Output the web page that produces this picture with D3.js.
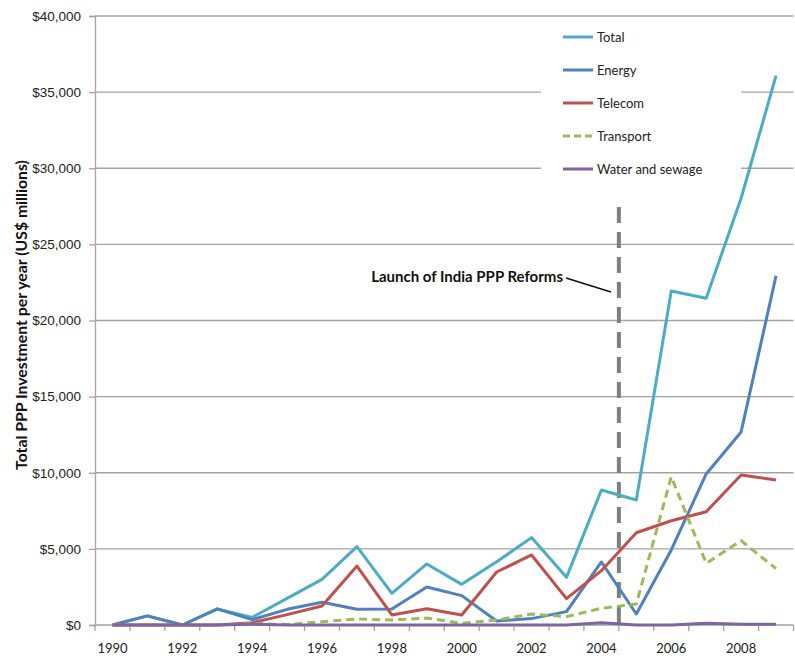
<!DOCTYPE html>
<html>
<head>
<meta charset="utf-8">
<script src="https://cdn.jsdelivr.net/npm/d3@7"></script>
<style>
  html, body { margin: 0; padding: 0; background: #fff; }
  svg { display: block; font-family: Lato, "Liberation Sans", sans-serif; }
</style>
</head>
<body>
<svg id="chart" width="795" height="661"></svg>
<script>
// Annual PPP investment in India by sector, US$ millions
const years = [1990,1991,1992,1993,1994,1995,1996,1997,1998,1999,2000,2001,2002,2003,2004,2005,2006,2007,2008,2009];
const total     = [0, 600, 0, 1050, 500, 1750, 3000, 5150, 2080, 4010, 2670, 4150, 5740, 3130, 8870, 8210, 21940, 21460, 28030, 36080];
const energy    = [0, 600, 0, 1060, 350, 1030, 1490, 1030, 1050, 2500, 1930, 260, 420, 880, 4140, 720, 4930, 9920, 12680, 22940];
const telecom   = [0, 0, 0, 0, 150, 680, 1250, 3870, 660, 1070, 660, 3480, 4600, 1730, 3570, 6060, 6850, 7440, 9850, 9520];
const transport = [0, 0, 0, 0, 100, 30, 220, 390, 330, 460, 110, 330, 720, 550, 1100, 1380, 9740, 4050, 5540, 3700];
const water     = [0, 0, 0, 0, 50, 0, 0, 0, 0, 0, 0, 0, 0, 0, 150, 0, 0, 120, 50, 50];

const seriesNames = ["Total", "Energy", "Telecom", "Transport", "Water and sewage"];
const seriesValues = [total, energy, telecom, transport, water];
const seriesColors = ["#4BACC6", "#4F81BD", "#C0504D", "#9BBB59", "#8064A2"];
const seriesDash = [null, null, null, "8,5", null];

const yTicks = [0, 5000, 10000, 15000, 20000, 25000, 30000, 35000, 40000];
const xLabelYears = [1990,1992,1994,1996,1998,2000,2002,2004,2006,2008];
const reformYear = 2004.5;
const reformLabel = "Launch of India PPP Reforms";
const yTitle = "Total PPP Investment per year (US$ millions)";

const svg = d3.select("#chart");
const plotLeft = 95, plotRight = 793.5, plotTop = 16, plotBottom = 625;

const x = d3.scaleBand().domain(years).range([plotLeft, plotRight]).paddingInner(0).paddingOuter(0);
const xc = yr => x(yr) + x.bandwidth() / 2;
const xYear = v => x(years[0]) + (v - years[0] + 0.5) * x.step();
const y = d3.scaleLinear().domain([0, 40000]).range([plotBottom, plotTop]);

// horizontal gridlines
svg.append("g").selectAll("line").data(yTicks.slice(1)).join("line")
  .attr("x1", plotLeft).attr("x2", plotRight)
  .attr("y1", d => y(d)).attr("y2", d => y(d))
  .attr("stroke", "#a3a3a3").attr("stroke-width", 1.3);

// y axis
const yAxis = svg.append("g").attr("transform", `translate(${plotLeft},0)`)
  .call(d3.axisLeft(y).tickValues(yTicks).tickSize(6).tickPadding(8)
    .tickFormat(d => "$" + d3.format(",")(d)));
yAxis.select(".domain").attr("stroke", "#a3a3a3").attr("stroke-width", 1.3);
yAxis.selectAll(".tick line").attr("stroke", "#a3a3a3").attr("stroke-width", 1.3);
yAxis.selectAll("text").attr("font-size", 13.5).attr("fill", "#222");

// x axis: ticks at category boundaries, labels every other year
const xg = svg.append("g");
xg.append("line").attr("x1", plotLeft).attr("x2", plotRight).attr("y1", plotBottom).attr("y2", plotBottom)
  .attr("stroke", "#a3a3a3").attr("stroke-width", 1.3);
xg.selectAll("line.tk").data(years.concat([years[years.length - 1] + 1])).join("line")
  .attr("class", "tk")
  .attr("x1", d => x(years[0]) + (d - years[0]) * x.step())
  .attr("x2", d => x(years[0]) + (d - years[0]) * x.step())
  .attr("y1", plotBottom).attr("y2", plotBottom + 6)
  .attr("stroke", "#a3a3a3").attr("stroke-width", 1.3);
xg.selectAll("text").data(xLabelYears).join("text")
  .attr("x", d => xc(d)).attr("y", 653)
  .attr("text-anchor", "middle").attr("font-size", 13).attr("fill", "#222")
  .text(d => d);

// y axis title
svg.append("text")
  .attr("transform", "translate(27,315) rotate(-90)")
  .attr("text-anchor", "middle").attr("font-size", 15.8).attr("font-weight", "bold")
  .attr("fill", "#111").text(yTitle);

// reform marker
svg.append("line")
  .attr("x1", xYear(reformYear)).attr("x2", xYear(reformYear))
  .attr("y1", 207).attr("y2", plotBottom)
  .attr("stroke", "#7f7f7f").attr("stroke-width", 4).attr("stroke-dasharray", "16,9");

// series lines
const line = d3.line().x((d, i) => xc(years[i])).y(d => y(d));
seriesValues.forEach((vals, k) => {
  svg.append("path").datum(vals)
    .attr("d", line).attr("fill", "none")
    .attr("stroke", seriesColors[k]).attr("stroke-width", 3)
    .attr("stroke-linejoin", "round")
    .attr("stroke-dasharray", seriesDash[k]);
});

// annotation
svg.append("text").attr("x", 563).attr("y", 282).attr("text-anchor", "end")
  .attr("font-size", 15).attr("font-weight", "bold").attr("fill", "#111")
  .text(reformLabel);
svg.append("line").attr("x1", 566).attr("y1", 278).attr("x2", 611).attr("y2", 292)
  .attr("stroke", "#111").attr("stroke-width", 1.6);

// legend
const legend = svg.append("g");
legend.append("rect").attr("x", 541).attr("y", 18).attr("width", 200).attr("height", 170).attr("fill", "#fff");
seriesNames.forEach((name, k) => {
  const ly = 37 + k * 33;
  legend.append("line").attr("x1", 563).attr("x2", 593).attr("y1", ly).attr("y2", ly)
    .attr("stroke", seriesColors[k]).attr("stroke-width", 3)
    .attr("stroke-dasharray", seriesDash[k] ? "7,4" : null);
  legend.append("text").attr("x", 597).attr("y", ly + 5)
    .attr("font-size", 13).attr("fill", "#222").text(name);
});
</script>
</body>
</html>
